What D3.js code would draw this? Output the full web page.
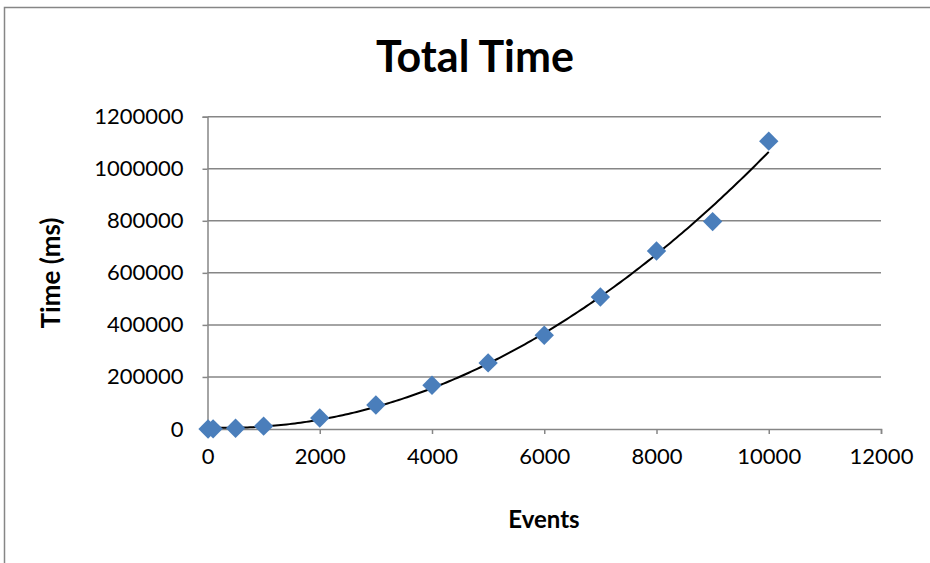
<!DOCTYPE html>
<html>
<head>
<meta charset="utf-8">
<script src="https://cdn.jsdelivr.net/npm/d3@7"></script>
<style>
  html, body { margin: 0; padding: 0; background: #fff; }
  svg { display: block; }
  text { font-family: Lato, "Open Sans", sans-serif; fill: #000; }
</style>
</head>
<body>
<svg id="chart" width="930" height="563"></svg>
<script>
// Number of events processed in each run
const events = [10, 100, 500, 1000, 2000, 3000, 4000, 5000, 6000, 7000, 8000, 9000, 10000];
// Total processing time for each run, in milliseconds
const timeMs = [50, 500, 3000, 11000, 42000, 92000, 168000, 254000, 360000, 507000, 684000, 797000, 1106000];

const xTicks = [0, 2000, 4000, 6000, 8000, 10000, 12000];
const yTicks = [0, 200000, 400000, 600000, 800000, 1000000, 1200000];

const titleText = "Total Time";
const xTitle = "Events";
const yTitle = "Time (ms)";

const W = 930, H = 563;
const plot = { left: 207.5, right: 881, top: 116.7, bottom: 429 };
const grey = "#868686";

const svg = d3.select("#chart");

// Chart area border (runs off the right and bottom edges)
svg.append("rect")
  .attr("x", 4.5).attr("y", 7.5)
  .attr("width", 1000).attr("height", 1000)
  .attr("fill", "none").attr("stroke", grey).attr("stroke-width", 1.5);

const x = d3.scaleLinear().domain([0, 12000]).range([plot.left, plot.right]);
const y = d3.scaleLinear().domain([0, 1200000]).range([plot.bottom, plot.top]);

// Horizontal gridlines
svg.append("g")
  .selectAll("line")
  .data(yTicks.filter(v => v > 0))
  .join("line")
  .attr("x1", plot.left).attr("x2", plot.right)
  .attr("y1", d => y(d)).attr("y2", d => y(d))
  .attr("stroke", grey).attr("stroke-width", 1.5);

// Y axis
const yAxis = svg.append("g")
  .attr("transform", `translate(${plot.left},0)`)
  .call(d3.axisLeft(y).tickValues(yTicks).tickFormat(d3.format("d")).tickSize(5).tickPadding(19));
yAxis.select(".domain").attr("stroke", grey).attr("stroke-width", 1.5);
yAxis.selectAll(".tick line").attr("stroke", grey).attr("stroke-width", 1.5);
yAxis.selectAll(".tick text")
  .style("font-family", "Lato, 'Open Sans', sans-serif")
  .style("font-size", "22px").attr("fill", "#000");

// X axis
const xAxis = svg.append("g")
  .attr("transform", `translate(0,${plot.bottom})`)
  .call(d3.axisBottom(x).tickValues(xTicks).tickFormat(d3.format("d")).tickSize(5).tickPadding(14));
xAxis.select(".domain").attr("stroke", grey).attr("stroke-width", 1.5);
xAxis.selectAll(".tick line").attr("stroke", grey).attr("stroke-width", 1.5);
xAxis.selectAll(".tick text")
  .style("font-family", "Lato, 'Open Sans', sans-serif")
  .style("font-size", "22px").attr("fill", "#000");

// Second-order polynomial least-squares trendline
function quadFit(xs, ys) {
  let s0 = xs.length, s1 = 0, s2 = 0, s3 = 0, s4 = 0, t0 = 0, t1 = 0, t2 = 0;
  xs.forEach((xv, i) => {
    const yv = ys[i], x2 = xv * xv;
    s1 += xv; s2 += x2; s3 += x2 * xv; s4 += x2 * x2;
    t0 += yv; t1 += xv * yv; t2 += x2 * yv;
  });
  const M = [[s4, s3, s2, t2], [s3, s2, s1, t1], [s2, s1, s0, t0]];
  for (let c = 0; c < 3; c++) {
    for (let r = c + 1; r < 3; r++) {
      const f = M[r][c] / M[c][c];
      for (let k = c; k < 4; k++) M[r][k] -= f * M[c][k];
    }
  }
  const sol = [0, 0, 0];
  for (let r = 2; r >= 0; r--) {
    let s = M[r][3];
    for (let k = r + 1; k < 3; k++) s -= M[r][k] * sol[k];
    sol[r] = s / M[r][r];
  }
  return sol; // a, b, c for a*x^2 + b*x + c
}
const [qa, qb, qc] = quadFit(events, timeMs);
const xMin = d3.min(events), xMax = d3.max(events);
const trend = d3.range(0, 201).map(i => {
  const xv = xMin + (xMax - xMin) * i / 200;
  return [xv, qa * xv * xv + qb * xv + qc];
});
svg.append("path")
  .datum(trend)
  .attr("fill", "none").attr("stroke", "#000").attr("stroke-width", 2)
  .attr("d", d3.line().x(d => x(d[0])).y(d => y(d[1])));

// Data markers (diamonds)
svg.append("g")
  .selectAll("path")
  .data(events.map((e, i) => [e, timeMs[i]]))
  .join("path")
  .attr("transform", d => `translate(${x(d[0])},${y(d[1])})`)
  .attr("d", "M0,-9.7L9.7,0L0,9.7L-9.7,0Z")
  .attr("fill", "#4a7ebb");

// Titles
svg.append("text")
  .attr("x", 475).attr("y", 72)
  .attr("text-anchor", "middle")
  .style("font-size", "43px").style("font-weight", "bold")
  .text(titleText);

svg.append("text")
  .attr("x", 544).attr("y", 528)
  .attr("text-anchor", "middle")
  .style("font-size", "24px").style("font-weight", "bold")
  .text(xTitle);

svg.append("text")
  .attr("transform", "translate(60,273) rotate(-90)")
  .attr("text-anchor", "middle")
  .style("font-size", "26px").style("font-weight", "bold")
  .text(yTitle);
</script>
</body>
</html>
